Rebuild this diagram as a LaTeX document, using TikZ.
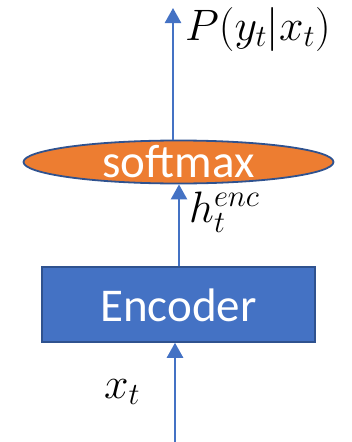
\RequirePackage{fix-cm}
\documentclass[tikz,border=0pt]{standalone}
\usepackage{fontspec}
\setmainfont{Carlito}
\usetikzlibrary{shapes.geometric,arrows.meta}
\definecolor{accblue}{HTML}{4472C4}
\definecolor{edgeblue}{HTML}{2F528F}
\definecolor{accorange}{HTML}{ED7D31}
\tikzset{
  arr/.style={draw=accblue, line width=2.5pt, -{Triangle[width=16pt,length=15pt]}},
  encbox/.style={rectangle, fill=accblue, draw=edgeblue, line width=1.5pt, minimum width=273pt, minimum height=75pt, inner sep=0pt},
  softell/.style={ellipse, fill=accorange, draw=edgeblue, line width=1.8pt, minimum width=310pt, minimum height=43pt, inner sep=0pt},
  wtext/.style={text=white, inner sep=0pt, anchor=base, font=\fontsize{47}{50}\selectfont},
  mlabel/.style={inner sep=0pt, anchor=base west, font=\fontsize{44}{48}\selectfont}
}
\begin{document}
\begin{tikzpicture}[x=1pt,y=-1pt]
\useasboundingbox (0,0) rectangle (352,442);
\node[encbox] (enc) at (178.5,304.5) {};
\node[wtext] (enctxt) at (178.5,321) {Encoder};
\node[softell] (soft) at (178.5,162) {};
\node[wtext] (softtxt) at (178.5,177) {softmax};
\coordinate (xin) at (175,442);
\coordinate (out) at (173,8);
\draw[arr] (xin) -- (xin |- enc.south);
\draw[arr] ([xshift=0.5pt]enc.north) -- ([xshift=0.5pt]soft.south);
\draw[arr] (out |- soft.north) -- (out);
\node[mlabel] (py) at (185,40) {$P(y_t|x_t)$};
\node[mlabel] (h) at (189,222) {$h_t^{enc}$};
\node[mlabel] (x) at (104,398) {$x_t$};
\end{tikzpicture}
\end{document}
